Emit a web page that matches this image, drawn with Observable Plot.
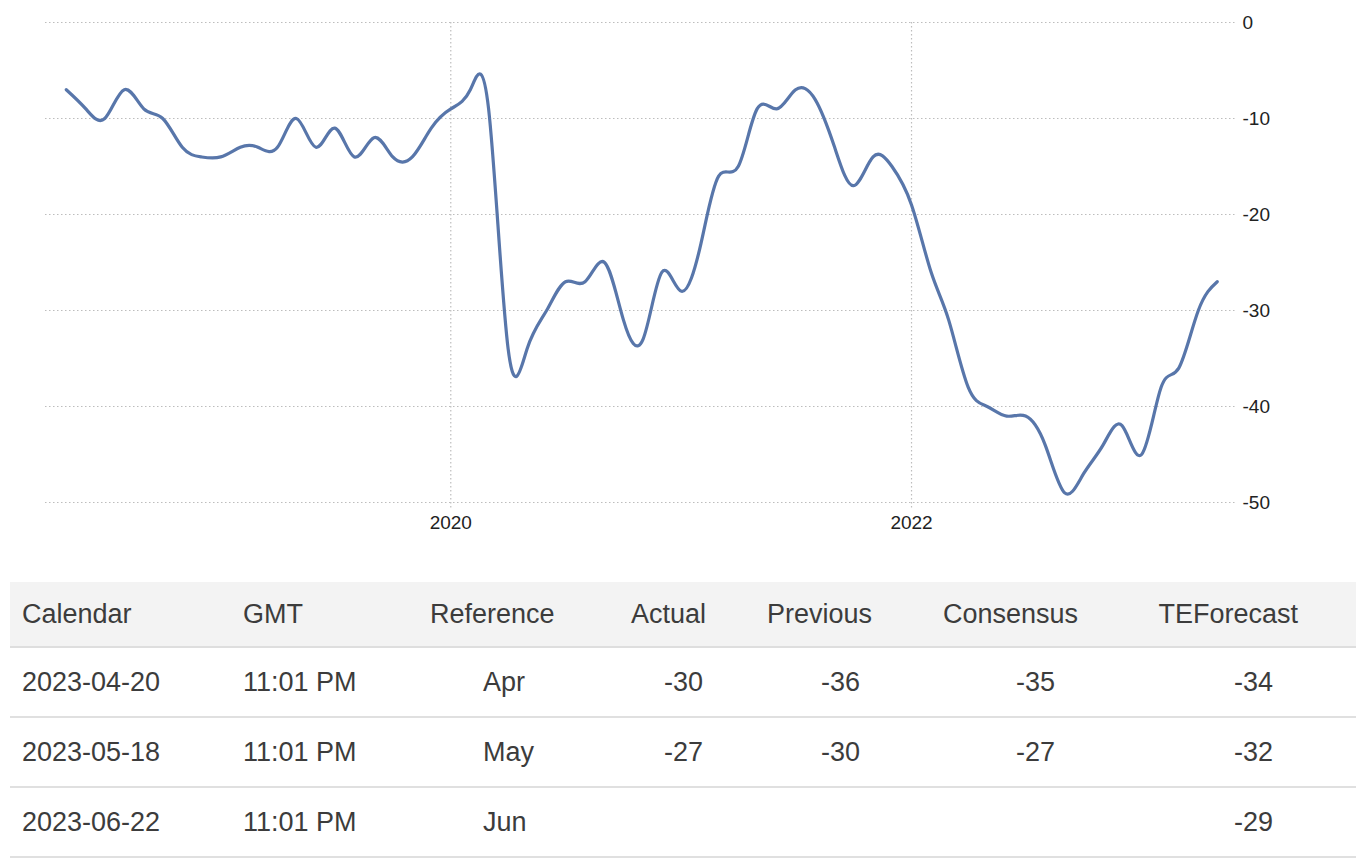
<!DOCTYPE html>
<html>
<head>
<meta charset="utf-8">
<script src="https://cdn.jsdelivr.net/npm/d3@7"></script>
<script src="https://cdn.jsdelivr.net/npm/@observablehq/plot@0.6"></script>
<style>
  html, body { margin: 0; padding: 0; background: #fff; }
  body { width: 1356px; height: 860px; position: relative; overflow: hidden; font-family: "Liberation Sans", Arial, sans-serif; }
  #chart { position: absolute; left: 0; top: 0; }
  #table { position: absolute; left: 0; top: 582px; width: 1356px; color: #3c3c3c; font-size: 27px; font-family: "Liberation Sans", Arial, sans-serif; }
  .hdr { position: absolute; left: 10px; right: 0; top: 0; height: 64px; background: #f3f3f3; border-bottom: 2px solid #dedede; }
  .row { position: absolute; left: 10px; right: 0; height: 68px; border-bottom: 2px solid #e0e0e0; }
  .cell { position: absolute; top: 50%; transform: translateY(-50%); white-space: nowrap; }
</style>
</head>
<body>
<div id="chart"></div>
<div id="table"></div>
<script>
// ---- data ----
const months = [
  "2018-05","2018-06","2018-07","2018-08","2018-09","2018-10","2018-11","2018-12",
  "2019-01","2019-02","2019-03","2019-04","2019-05","2019-06","2019-07","2019-08","2019-09","2019-10","2019-11","2019-12",
  "2020-01","2020-02","2020-03","2020-04","2020-05","2020-06","2020-07","2020-08","2020-09","2020-10","2020-11","2020-12",
  "2021-01","2021-02","2021-03","2021-04","2021-05","2021-06","2021-07","2021-08","2021-09","2021-10","2021-11","2021-12",
  "2022-01","2022-02","2022-03","2022-04","2022-05","2022-06","2022-07","2022-08","2022-09","2022-10","2022-11","2022-12",
  "2023-01","2023-02","2023-03","2023-04","2023-05"
];
const values = [
  -7, -9, -10, -7, -9, -10, -13, -14,
  -14, -13, -13, -13, -10, -13, -11, -14, -12, -14, -14, -11,
  -9, -7, -9, -34, -34, -30, -27, -27, -25, -31, -33, -26,
  -28, -23, -16, -15, -9, -9, -7, -8, -13, -17, -14, -15,
  -19, -26, -31, -38, -40, -41, -41, -44, -49, -47, -44, -42,
  -45, -38, -36, -30, -27
];
const yTicks = [0, -10, -20, -30, -40, -50];
const xTickYears = ["2020", "2022"];

const tableHeaders = ["Calendar", "GMT", "Reference", "Actual", "Previous", "Consensus", "TEForecast"];
const calendarDates = ["2023-04-20", "2023-05-18", "2023-06-22"];
const gmtTimes = ["11:01 PM", "11:01 PM", "11:01 PM"];
const referenceMonths = ["Apr", "May", "Jun"];
const actualValues = ["-30", "-27", ""];
const previousValues = ["-36", "-30", ""];
const consensusValues = ["-35", "-27", ""];
const teForecastValues = ["-34", "-32", "-29"];

// ---- chart ----
const parse = d3.utcParse("%Y-%m");
const data = months.map((m, i) => ({date: parse(m), value: values[i]}));
const xTicks = xTickYears.map(y => d3.utcParse("%Y")(y));
const font = "'Liberation Sans', Arial, sans-serif";

const chart = Plot.plot({
  width: 1356,
  height: 545,
  marginTop: 22,
  marginBottom: 43,
  marginLeft: 45,
  marginRight: 121,
  style: {fontFamily: font, color: "#222", background: "#fff"},
  x: {type: "utc", domain: [new Date(Date.UTC(2018, 2, 29)), new Date(Date.UTC(2023, 4, 30))]},
  y: {domain: [-50, 0]},
  marks: [
    Plot.gridY(yTicks, {stroke: "#bdbdbd", strokeOpacity: 1, strokeDasharray: "1.5,2.5", strokeWidth: 1.2}),
    Plot.ruleX(xTicks, {y1: 0, y2: -50.7, stroke: "#bdbdbd", strokeOpacity: 1, strokeDasharray: "1.5,2.5", strokeWidth: 1.2}),
    Plot.axisY(yTicks, {anchor: "right", tickSize: 0, tickPadding: 7, fontSize: 19, fill: "#222", tickFormat: d => String(d), label: null}),
    Plot.axisX(xTicks, {anchor: "bottom", tickSize: 0, tickPadding: 13, fontSize: 19, fill: "#222", tickFormat: d3.utcFormat("%Y"), label: null}),
    Plot.line(data, {x: "date", y: "value", curve: "natural", stroke: "#5876aa", strokeWidth: 3.2})
  ]
});
document.getElementById("chart").appendChild(chart);

// ---- table ----
const table = document.getElementById("table");
const colPos = [
  {hdr: ["left", 12], val: ["left", 12]},
  {hdr: ["left", 233], val: ["left", 233]},
  {hdr: ["left", 420], val: ["left", 473]},
  {hdr: ["right", 650], val: ["right", 653]},
  {hdr: ["right", 484], val: ["right", 496]},
  {hdr: ["right", 278], val: ["right", 301]},
  {hdr: ["right", 58], val: ["right", 83]}
];
function place(el, pos) {
  if (pos[0] === "left") el.style.left = pos[1] + "px";
  else el.style.right = pos[1] + "px";
}
const hdr = document.createElement("div");
hdr.className = "hdr";
tableHeaders.forEach((h, i) => {
  const c = document.createElement("span");
  c.className = "cell";
  c.textContent = h;
  place(c, colPos[i].hdr);
  hdr.appendChild(c);
});
table.appendChild(hdr);

const columns = [calendarDates, gmtTimes, referenceMonths, actualValues, previousValues, consensusValues, teForecastValues];
calendarDates.forEach((_, r) => {
  const row = document.createElement("div");
  row.className = "row";
  row.style.top = (66 + r * 70) + "px";
  columns.forEach((col, i) => {
    const c = document.createElement("span");
    c.className = "cell";
    c.textContent = col[r];
    place(c, colPos[i].val);
    row.appendChild(c);
  });
  table.appendChild(row);
});
</script>
</body>
</html>
